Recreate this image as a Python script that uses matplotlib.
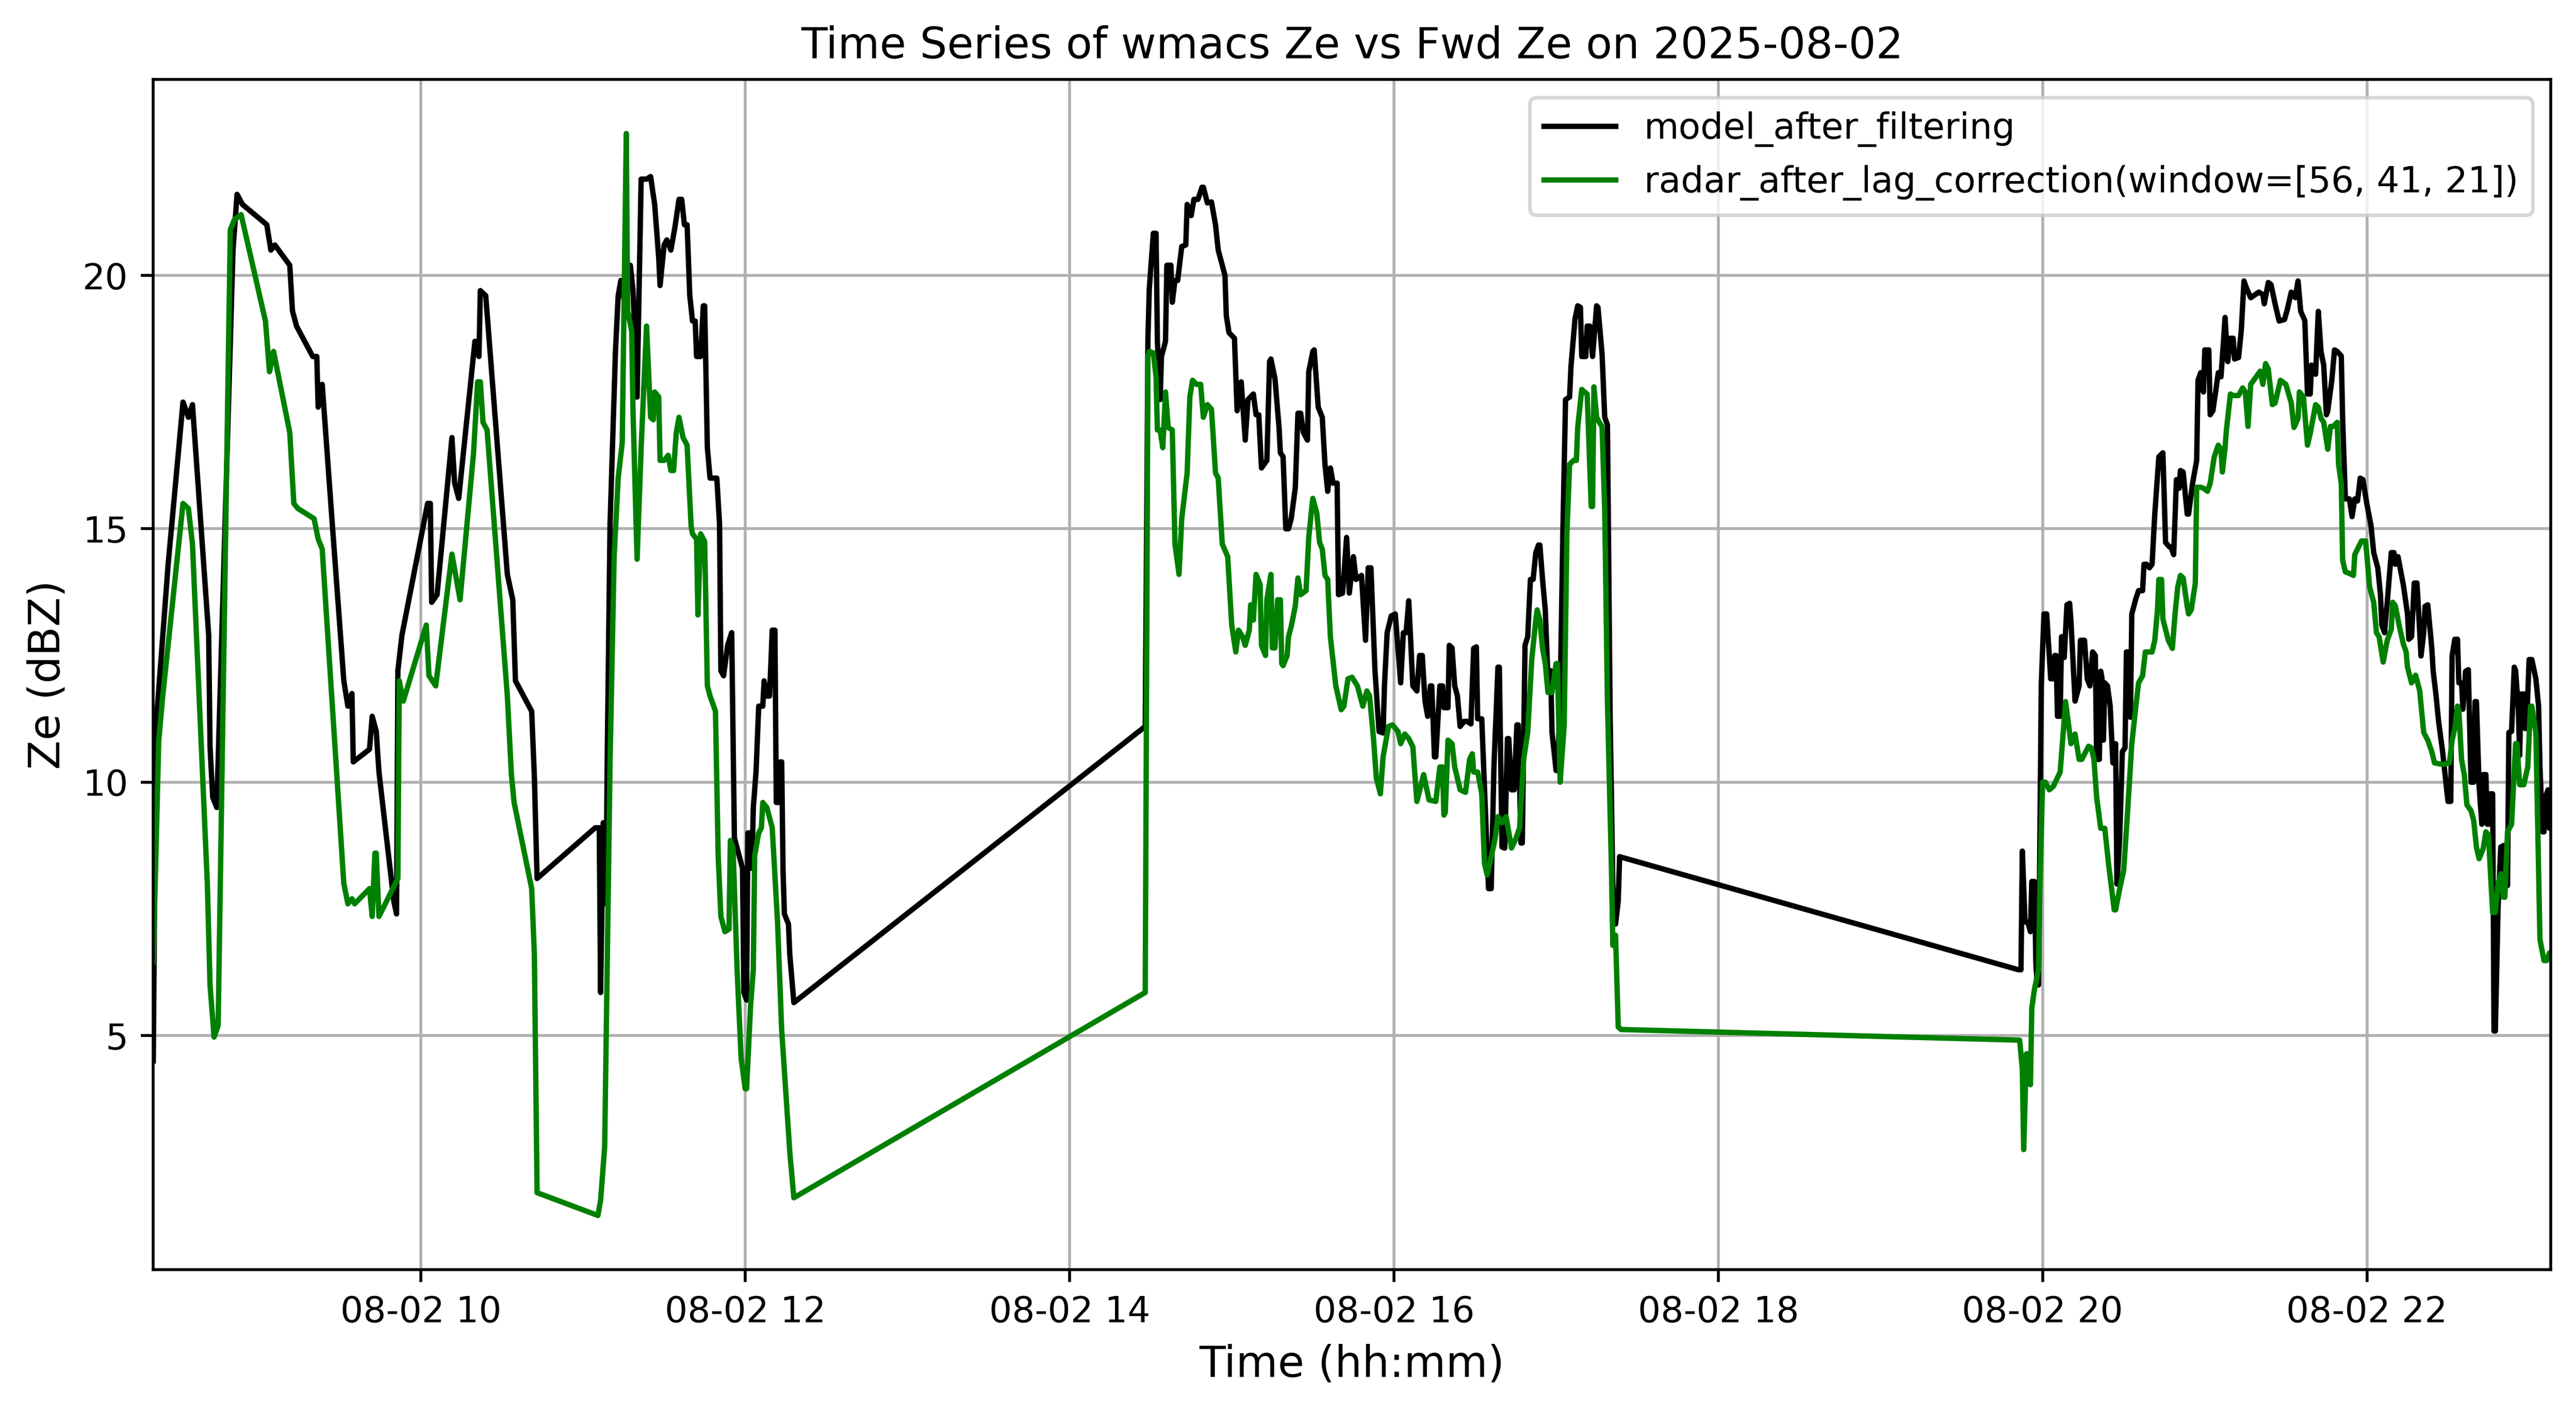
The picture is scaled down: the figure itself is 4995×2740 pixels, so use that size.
import matplotlib
matplotlib.use("Agg")
import matplotlib.pyplot as plt
import pandas as pd

day = "2025-08-02"

# model Ze after filtering (black)
model_time = [
    "08:21:00", "08:22:00", "08:26:30", "08:32:00", "08:34:00", "08:35:30", "08:41:30", "08:42:00",
    "08:43:00", "08:44:30", "08:50:30", "08:52:00", "08:54:00", "09:03:00", "09:04:30", "09:06:00",
    "09:11:30", "09:12:30", "09:14:00", "09:20:00", "09:21:30", "09:22:00", "09:23:30", "09:27:30",
    "09:31:30", "09:33:00", "09:34:30", "09:35:00", "09:41:00", "09:42:00", "09:43:30", "09:44:30",
    "09:50:00", "09:51:00", "09:51:30", "09:53:00", "10:02:30", "10:03:30", "10:04:00", "10:06:00",
    "10:11:30", "10:12:30", "10:14:00", "10:20:00", "10:21:30", "10:22:00", "10:24:00", "10:32:00",
    "10:34:00", "10:35:00", "10:41:00", "10:42:00", "10:43:00", "11:04:30", "11:06:00", "11:06:30",
    "11:07:30", "11:08:30", "11:09:00", "11:10:00", "11:12:00", "11:13:00", "11:14:00", "11:15:30",
    "11:17:30", "11:18:30", "11:20:00", "11:21:30", "11:23:30", "11:25:00", "11:26:30", "11:28:00",
    "11:28:30", "11:30:00", "11:31:00", "11:32:30", "11:34:00", "11:35:30", "11:36:30", "11:37:30",
    "11:38:30", "11:39:30", "11:40:30", "11:41:30", "11:42:00", "11:43:30", "11:44:30", "11:45:00",
    "11:46:00", "11:47:00", "11:49:30", "11:50:30", "11:51:00", "11:52:00", "11:53:30", "11:55:00",
    "11:56:00", "11:57:00", "11:59:00", "11:59:30", "12:00:30", "12:01:00", "12:02:00", "12:02:30",
    "12:03:00", "12:04:00", "12:05:00", "12:06:30", "12:07:00", "12:08:00", "12:09:00", "12:10:00",
    "12:11:00", "12:11:30", "12:12:30", "12:13:00", "12:13:30", "12:14:00", "12:14:30", "12:16:00",
    "12:16:30", "12:18:00", "14:28:00", "14:29:00", "14:29:30", "14:31:00", "14:32:00", "14:32:30",
    "14:33:30", "14:34:00", "14:35:30", "14:36:00", "14:37:30", "14:38:00", "14:39:00", "14:40:00",
    "14:41:30", "14:43:00", "14:43:30", "14:45:00", "14:46:00", "14:47:30", "14:49:00", "14:49:30",
    "14:51:00", "14:52:30", "14:54:00", "14:55:00", "14:57:30", "14:58:00", "14:59:00", "15:01:00",
    "15:02:00", "15:03:30", "15:05:00", "15:06:00", "15:08:00", "15:09:00", "15:10:00", "15:11:00",
    "15:13:00", "15:14:00", "15:14:30", "15:16:00", "15:17:30", "15:18:00", "15:19:00", "15:20:00",
    "15:21:00", "15:22:00", "15:23:30", "15:24:30", "15:25:30", "15:26:30", "15:28:00", "15:28:30",
    "15:30:00", "15:30:30", "15:32:00", "15:33:30", "15:34:30", "15:35:30", "15:36:30", "15:37:30",
    "15:39:00", "15:39:30", "15:41:00", "15:42:30", "15:43:30", "15:45:00", "15:46:00", "15:48:00",
    "15:49:30", "15:50:30", "15:51:30", "15:53:00", "15:54:30", "15:56:00", "15:56:30", "15:57:30",
    "15:59:00", "16:00:30", "16:02:30", "16:03:30", "16:04:30", "16:05:30", "16:07:00", "16:08:30",
    "16:09:30", "16:10:30", "16:11:30", "16:12:30", "16:13:30", "16:14:00", "16:15:00", "16:15:30",
    "16:17:00", "16:18:00", "16:18:30", "16:20:00", "16:20:30", "16:21:30", "16:22:30", "16:23:30",
    "16:24:30", "16:26:00", "16:27:00", "16:28:30", "16:29:30", "16:30:30", "16:31:00", "16:32:30",
    "16:34:00", "16:35:00", "16:36:00", "16:37:00", "16:38:30", "16:39:00", "16:40:00", "16:41:00",
    "16:42:00", "16:42:30", "16:43:30", "16:44:30", "16:45:30", "16:46:00", "16:47:00", "16:47:30",
    "16:48:30", "16:49:30", "16:50:30", "16:51:30", "16:52:30", "16:53:30", "16:54:00", "16:55:00",
    "16:56:00", "16:57:00", "16:58:00", "16:58:30", "17:00:00", "17:00:30", "17:01:30", "17:02:30",
    "17:03:30", "17:05:00", "17:05:30", "17:07:00", "17:08:00", "17:09:00", "17:09:30", "17:11:00",
    "17:11:30", "17:12:30", "17:13:30", "17:15:00", "17:15:30", "17:17:00", "17:18:00", "17:19:00",
    "17:20:00", "17:21:00", "17:22:00", "17:23:00", "17:23:30", "19:51:00", "19:52:00", "19:52:30",
    "19:53:30", "19:54:30", "19:55:30", "19:56:00", "19:57:00", "19:57:30", "19:58:00", "19:58:30",
    "19:59:30", "20:00:30", "20:01:30", "20:03:00", "20:04:00", "20:04:30", "20:05:00", "20:05:30",
    "20:06:30", "20:07:00", "20:07:30", "20:08:00", "20:09:00", "20:10:00", "20:10:30", "20:12:00",
    "20:13:30", "20:14:00", "20:15:30", "20:16:30", "20:17:30", "20:18:30", "20:19:30", "20:20:00",
    "20:21:00", "20:21:30", "20:22:00", "20:22:30", "20:23:00", "20:24:00", "20:25:00", "20:26:00",
    "20:27:00", "20:27:30", "20:28:30", "20:29:30", "20:30:30", "20:31:00", "20:32:00", "20:32:30",
    "20:33:00", "20:34:30", "20:35:30", "20:37:00", "20:37:30", "20:38:30", "20:39:30", "20:40:30",
    "20:41:30", "20:43:00", "20:44:30", "20:45:30", "20:47:00", "20:47:30", "20:48:30", "20:49:30",
    "20:50:30", "20:51:00", "20:52:00", "20:53:30", "20:54:00", "20:55:30", "20:57:00", "20:57:30",
    "20:58:30", "20:59:30", "21:00:00", "21:01:30", "21:02:00", "21:03:00", "21:04:00", "21:05:00",
    "21:06:00", "21:07:00", "21:07:30", "21:08:30", "21:09:30", "21:10:30", "21:11:00", "21:12:30",
    "21:13:30", "21:14:30", "21:15:30", "21:17:00", "21:20:00", "21:21:30", "21:22:00", "21:23:30",
    "21:24:30", "21:26:00", "21:27:30", "21:29:30", "21:30:30", "21:32:00", "21:33:30", "21:34:30",
    "21:35:30", "21:37:00", "21:38:00", "21:39:00", "21:39:30", "21:41:00", "21:42:00", "21:43:00",
    "21:44:00", "21:45:00", "21:45:30", "21:47:00", "21:48:00", "21:49:00", "21:50:30", "21:51:00",
    "21:52:00", "21:53:30", "21:54:30", "21:55:30", "21:56:30", "21:57:30", "21:58:30", "22:00:00",
    "22:01:30", "22:02:30", "22:04:00", "22:05:00", "22:05:30", "22:06:30", "22:07:30", "22:09:00",
    "22:10:00", "22:10:30", "22:11:30", "22:13:30", "22:15:00", "22:15:30", "22:16:30", "22:17:30",
    "22:18:30", "22:19:00", "22:20:00", "22:21:00", "22:21:30", "22:22:30", "22:24:00", "22:24:30",
    "22:25:30", "22:26:30", "22:28:00", "22:29:30", "22:30:00", "22:31:00", "22:31:30", "22:32:30",
    "22:33:30", "22:34:00", "22:35:00", "22:35:30", "22:36:30", "22:37:30", "22:38:30", "22:39:30",
    "22:40:00", "22:40:30", "22:41:30", "22:42:30", "22:43:00", "22:44:00", "22:44:30", "22:45:00",
    "22:45:30", "22:46:30", "22:47:00", "22:47:30", "22:48:30", "22:49:30", "22:50:30", "22:51:30",
    "22:52:00", "22:52:30", "22:53:30", "22:54:30", "22:55:00", "22:56:00", "22:56:30", "22:57:00",
    "22:58:00", "22:58:30", "22:59:00", "23:00:00", "23:01:00", "23:02:30", "23:03:30", "23:04:00",
    "23:05:00", "23:05:30", "23:06:00", "23:07:00", "23:07:30", "23:08:00",
]
model_ze = [
    4.5, 11.1, 14.3, 17.5, 17.2, 17.45, 12.9, 10.7,
    9.7, 9.5, 20.5, 21.6, 21.4, 21.0, 20.5, 20.6,
    20.2, 19.3, 19.0, 18.4, 18.4, 17.4, 17.85, 14.9,
    12.0, 11.5, 11.75, 10.4, 10.65, 11.3, 11.0, 10.2,
    7.65, 7.4, 12.2, 12.9, 15.5, 15.5, 13.55, 13.7,
    16.8, 15.9, 15.6, 18.7, 18.4, 19.7, 19.6, 14.1,
    13.6, 12.0, 11.4, 10.1, 8.1, 9.1, 9.1, 5.85,
    9.2, 7.6, 10.7, 15.1, 18.5, 19.6, 19.9, 19.4,
    20.2, 19.7, 17.6, 21.9, 21.9, 21.95, 21.4, 20.35,
    19.8, 20.6, 20.7, 20.5, 20.95, 21.5, 21.5, 21.0,
    21.0, 19.6, 19.1, 19.1, 18.4, 18.4, 19.4, 19.4,
    16.6, 16.0, 16.0, 15.1, 12.2, 12.1, 12.7, 12.95,
    8.9, 8.7, 8.3, 5.85, 5.7, 9.0, 9.0, 8.3,
    9.5, 10.2, 11.5, 11.5, 12.0, 11.7, 11.7, 13.0,
    13.0, 9.6, 9.6, 10.4, 10.4, 8.25, 7.4, 7.2,
    6.6, 5.65, 11.1, 18.76, 19.74, 20.83, 20.83, 18.7,
    17.55, 18.4, 18.7, 20.2, 20.2, 19.47, 19.9, 19.9,
    20.57, 20.6, 21.4, 21.18, 21.5, 21.5, 21.74, 21.74,
    21.43, 21.45, 21.0, 20.5, 20.0, 19.2, 18.87, 18.76,
    17.33, 17.9, 16.75, 17.55, 17.66, 17.25, 17.25, 16.2,
    16.35, 18.3, 18.35, 17.96, 17.0, 16.5, 16.42, 15.0,
    15.0, 15.2, 15.8, 17.28, 17.28, 16.9, 16.75, 18.1,
    18.5, 18.53, 17.4, 17.2, 16.27, 15.74, 16.2, 15.9,
    15.9, 13.7, 13.73, 14.83, 13.73, 14.45, 14.0, 14.08,
    12.8, 14.23, 14.23, 12.2, 11.0, 10.97, 11.9, 12.95,
    13.28, 13.32, 11.96, 12.95, 12.95, 13.58, 11.9, 11.8,
    12.5, 12.5, 11.6, 11.3, 11.9, 11.9, 10.5, 10.5,
    11.9, 11.9, 11.47, 11.47, 12.7, 12.65, 11.9, 11.7,
    11.1, 11.2, 11.2, 11.15, 12.64, 12.67, 11.25, 11.25,
    9.24, 7.9, 7.9, 10.3, 12.27, 12.27, 8.72, 8.7,
    10.86, 10.86, 9.85, 9.85, 11.13, 11.13, 8.8, 8.8,
    12.7, 12.87, 14.0, 14.0, 14.53, 14.68, 14.68, 14.0,
    13.4, 12.04, 12.2, 10.98, 10.23, 10.23, 11.6, 14.9,
    17.55, 17.6, 18.2, 19.14, 19.4, 19.37, 18.4, 18.4,
    19.0, 19.0, 18.4, 19.4, 19.37, 18.46, 17.2, 17.05,
    11.3, 7.96, 7.2, 7.66, 8.53, 6.3, 6.3, 8.64,
    7.24, 7.24, 7.05, 8.04, 8.04, 6.45, 6.0, 6.0,
    11.9, 13.32, 13.32, 12.04, 12.04, 12.5, 12.5, 11.3,
    11.3, 12.87, 12.87, 12.46, 13.5, 13.53, 13.17, 11.6,
    11.9, 12.8, 12.8, 12.04, 11.9, 12.57, 12.5, 10.45,
    10.45, 12.19, 12.04, 10.83, 11.96, 11.9, 11.5, 10.38,
    10.76, 7.99, 8.87, 10.6, 10.68, 12.57, 12.57, 11.28,
    13.32, 13.62, 13.78, 13.78, 14.3, 14.3, 14.23, 14.3,
    15.29, 16.42, 16.5, 14.73, 14.64, 14.64, 14.49, 15.97,
    15.8, 16.15, 16.12, 15.29, 15.29, 15.9, 16.35, 17.93,
    18.08, 17.7, 18.53, 18.53, 17.25, 17.33, 17.7, 18.08,
    18.0, 18.76, 19.17, 18.3, 18.76, 18.76, 18.35, 18.38,
    18.91, 19.89, 19.74, 19.56, 19.67, 19.62, 19.44, 19.86,
    19.82, 19.44, 19.1, 19.13, 19.32, 19.67, 19.56, 19.89,
    19.29, 19.11, 17.66, 17.66, 18.23, 18.05, 19.29, 18.5,
    18.23, 17.25, 17.33, 17.93, 18.53, 18.5, 18.41, 17.18,
    15.59, 15.59, 15.24, 15.59, 15.55, 16.0, 15.97, 15.48,
    15.06, 14.53, 14.23, 13.7, 13.1, 12.95, 13.55, 14.53,
    14.53, 14.3, 14.45, 13.88, 13.32, 12.82, 12.87, 13.93,
    13.93, 13.47, 12.49, 12.95, 13.47, 13.5, 12.64, 12.19,
    11.74, 11.2, 10.6, 9.85, 9.62, 9.62, 12.49, 12.82,
    12.82, 11.96, 11.96, 11.44, 12.19, 12.22, 10.0, 10.0,
    11.59, 11.59, 9.92, 9.17, 10.15, 10.15, 9.17, 9.17,
    9.77, 9.77, 5.09, 5.09, 7.51, 8.72, 8.75, 7.96,
    7.96, 10.98, 11.0, 12.27, 12.2, 11.44, 10.53, 11.74,
    11.74, 11.06, 11.06, 12.42, 12.42, 12.04, 11.5, 10.3,
    9.02, 9.02, 9.7, 9.85, 9.09, 9.5,
]

# radar Ze after lag correction (green)
radar_time = [
    "08:21:00", "08:23:00", "08:24:30", "08:32:00", "08:34:00", "08:35:30", "08:41:00", "08:42:00",
    "08:43:30", "08:45:00", "08:49:30", "08:51:00", "08:53:30", "09:02:30", "09:04:00", "09:05:30",
    "09:11:30", "09:13:00", "09:14:30", "09:20:30", "09:22:00", "09:23:30", "09:31:30", "09:33:00",
    "09:34:30", "09:35:30", "09:41:00", "09:42:00", "09:43:00", "09:43:30", "09:44:30", "09:51:30",
    "09:52:00", "09:53:30", "10:02:00", "10:03:00", "10:05:30", "10:11:30", "10:14:30", "10:19:30",
    "10:21:00", "10:22:00", "10:23:00", "10:24:30", "10:32:00", "10:33:30", "10:34:30", "10:41:00",
    "10:42:00", "10:43:00", "11:05:30", "11:06:30", "11:08:00", "11:09:00", "11:10:00", "11:11:30",
    "11:13:00", "11:14:30", "11:16:00", "11:16:30", "11:18:00", "11:18:30", "11:20:00", "11:21:30",
    "11:23:30", "11:25:00", "11:26:00", "11:26:30", "11:28:00", "11:28:30", "11:30:00", "11:31:30",
    "11:32:30", "11:33:30", "11:34:30", "11:35:30", "11:37:00", "11:38:30", "11:40:00", "11:40:30",
    "11:42:00", "11:42:30", "11:43:30", "11:45:00", "11:46:00", "11:47:00", "11:49:00", "11:50:00",
    "11:51:00", "11:52:30", "11:54:00", "11:54:30", "11:55:30", "11:57:00", "11:58:30", "12:00:00",
    "12:00:30", "12:02:00", "12:03:00", "12:03:30", "12:05:00", "12:06:00", "12:06:30", "12:08:00",
    "12:10:00", "12:12:00", "12:13:30", "12:16:30", "12:18:00", "14:28:00", "14:29:00", "14:29:30",
    "14:31:00", "14:32:00", "14:32:30", "14:33:30", "14:34:30", "14:35:30", "14:36:30", "14:38:00",
    "14:39:00", "14:40:30", "14:41:30", "14:43:30", "14:44:30", "14:45:30", "14:47:00", "14:48:30",
    "14:49:30", "14:51:00", "14:52:30", "14:54:00", "14:55:00", "14:56:30", "14:58:30", "15:00:00",
    "15:01:30", "15:02:30", "15:04:00", "15:05:00", "15:06:30", "15:07:00", "15:08:00", "15:09:00",
    "15:10:30", "15:11:00", "15:12:30", "15:13:00", "15:14:30", "15:15:00", "15:16:00", "15:17:00",
    "15:18:00", "15:18:30", "15:19:00", "15:20:30", "15:21:00", "15:22:00", "15:23:30", "15:24:30",
    "15:25:30", "15:27:30", "15:28:30", "15:29:30", "15:30:00", "15:31:30", "15:32:30", "15:33:30",
    "15:34:30", "15:35:30", "15:36:30", "15:38:30", "15:40:30", "15:41:30", "15:43:00", "15:44:30",
    "15:46:30", "15:47:30", "15:48:30", "15:50:00", "15:51:00", "15:52:30", "15:53:30", "15:55:00",
    "15:56:00", "15:58:00", "15:59:30", "16:01:30", "16:02:30", "16:04:00", "16:05:30", "16:07:00",
    "16:08:30", "16:11:00", "16:13:00", "16:15:30", "16:17:00", "16:18:00", "16:18:30", "16:19:00",
    "16:20:00", "16:21:30", "16:22:30", "16:24:30", "16:26:30", "16:28:00", "16:29:00", "16:29:30",
    "16:31:00", "16:32:30", "16:33:30", "16:34:30", "16:35:30", "16:37:30", "16:38:30", "16:40:00",
    "16:41:30", "16:43:30", "16:45:00", "16:46:30", "16:48:00", "16:49:30", "16:51:00", "16:52:30",
    "16:53:00", "16:54:00", "16:55:00", "16:56:00", "16:57:00", "16:58:30", "17:00:00", "17:00:30",
    "17:01:30", "17:03:00", "17:04:00", "17:05:00", "17:06:30", "17:07:30", "17:08:00", "17:09:30",
    "17:10:30", "17:11:30", "17:13:00", "17:13:30", "17:14:00", "17:15:00", "17:16:00", "17:17:00",
    "17:18:00", "17:19:00", "17:20:30", "17:21:00", "17:22:00", "17:23:00", "17:24:00", "19:51:30",
    "19:52:30", "19:53:00", "19:54:00", "19:54:30", "19:55:30", "19:56:00", "19:57:00", "19:58:30",
    "19:59:00", "20:00:00", "20:01:00", "20:02:30", "20:04:00", "20:06:30", "20:08:30", "20:10:30",
    "20:12:00", "20:13:30", "20:14:30", "20:17:00", "20:18:00", "20:19:00", "20:20:00", "20:21:30",
    "20:23:00", "20:24:30", "20:26:30", "20:27:00", "20:28:30", "20:30:00", "20:31:30", "20:33:00",
    "20:34:30", "20:35:30", "20:37:00", "20:38:00", "20:39:30", "20:40:30", "20:41:30", "20:42:30",
    "20:43:00", "20:44:00", "20:44:30", "20:46:30", "20:48:00", "20:49:00", "20:50:00", "20:51:00",
    "20:52:00", "20:53:30", "20:54:00", "20:55:00", "20:56:30", "20:57:00", "20:58:30", "20:59:30",
    "21:01:00", "21:02:00", "21:03:30", "21:05:00", "21:06:00", "21:06:30", "21:07:30", "21:08:00",
    "21:09:30", "21:10:30", "21:12:30", "21:14:00", "21:15:00", "21:16:00", "21:17:00", "21:20:30",
    "21:21:30", "21:22:30", "21:23:30", "21:25:00", "21:26:00", "21:28:00", "21:30:00", "21:32:00",
    "21:33:00", "21:34:30", "21:35:00", "21:36:30", "21:38:00", "21:39:00", "21:41:00", "21:42:00",
    "21:43:00", "21:44:00", "21:45:30", "21:46:30", "21:47:30", "21:49:00", "21:49:30", "21:50:30",
    "21:51:00", "21:52:00", "21:53:30", "21:55:00", "21:55:30", "21:56:30", "21:58:00", "21:59:30",
    "22:01:00", "22:02:30", "22:03:30", "22:04:30", "22:06:00", "22:07:30", "22:09:00", "22:09:30",
    "22:10:30", "22:12:00", "22:13:30", "22:14:30", "22:15:00", "22:16:30", "22:18:00", "22:19:30",
    "22:21:00", "22:22:30", "22:24:00", "22:25:00", "22:28:00", "22:30:30", "22:31:30", "22:32:30",
    "22:33:30", "22:34:00", "22:35:00", "22:36:00", "22:37:00", "22:38:30", "22:39:30", "22:40:30",
    "22:41:30", "22:43:00", "22:44:00", "22:45:00", "22:45:30", "22:46:30", "22:47:30", "22:48:30",
    "22:49:30", "22:50:30", "22:51:00", "22:52:00", "22:53:30", "22:55:00", "22:55:30", "22:56:30",
    "22:58:00", "22:59:30", "23:00:30", "23:01:00", "23:02:30", "23:04:00", "23:05:30", "23:06:30",
    "23:07:30", "23:08:00",
]
radar_ze = [
    6.45, 10.8, 11.7, 15.5, 15.4, 14.7, 8.0, 6.0,
    4.97, 5.2, 20.9, 21.1, 21.2, 19.1, 18.1, 18.5,
    16.9, 15.5, 15.4, 15.2, 14.8, 14.6, 8.0, 7.6,
    7.7, 7.6, 7.9, 7.35, 8.6, 8.6, 7.35, 8.1,
    12.0, 11.6, 13.1, 12.1, 11.9, 14.5, 13.6, 16.5,
    17.9, 17.9, 17.1, 16.95, 11.7, 10.15, 9.6, 7.9,
    6.6, 1.9, 1.45, 1.75, 2.8, 6.6, 10.4, 14.45,
    16.0, 16.7, 22.8, 19.3, 18.9, 17.3, 14.4, 16.6,
    19.0, 17.2, 17.15, 17.7, 17.6, 16.35, 16.35, 16.45,
    16.15, 16.15, 16.9, 17.2, 16.8, 16.65, 15.05, 14.9,
    14.8, 13.3, 14.9, 14.75, 11.9, 11.7, 11.4, 8.55,
    7.35, 7.05, 7.1, 8.85, 8.7, 6.3, 4.55, 3.95,
    3.95, 5.6, 6.3, 8.55, 9.0, 9.1, 9.6, 9.5,
    9.1, 7.2, 5.1, 2.7, 1.8, 5.85, 18.4, 18.5,
    18.47, 18.0, 16.95, 16.95, 16.6, 17.7, 17.0, 16.95,
    14.7, 14.1, 15.2, 16.1, 17.6, 17.93, 17.85, 17.85,
    17.2, 17.45, 17.36, 16.1, 16.0, 14.7, 14.45, 13.1,
    12.57, 13.0, 12.87, 12.7, 13.0, 13.5, 13.2, 14.1,
    13.9, 12.7, 12.5, 13.6, 14.1, 12.65, 12.65, 13.6,
    13.6, 12.34, 12.3, 12.5, 12.87, 13.07, 13.47, 14.03,
    13.7, 13.78, 14.83, 15.36, 15.6, 15.3, 14.73, 14.6,
    14.08, 14.0, 12.87, 11.9, 11.43, 11.5, 12.04, 12.07,
    11.9, 11.7, 11.5, 11.8, 11.7, 10.83, 10.08, 9.77,
    10.5, 11.1, 11.13, 11.0, 10.76, 10.95, 10.86, 10.7,
    9.62, 10.15, 9.65, 9.62, 10.3, 10.3, 9.35, 9.4,
    10.83, 10.76, 10.3, 9.85, 9.8, 10.45, 10.56, 10.2,
    10.2, 9.77, 8.4, 8.17, 8.4, 8.9, 9.32, 9.2,
    9.32, 8.7, 8.87, 9.1, 10.45, 10.98, 12.42, 13.2,
    13.4, 13.2, 12.64, 12.34, 11.77, 11.77, 12.34, 12.34,
    10.0, 11.13, 14.9, 16.27, 16.35, 16.35, 17.0, 17.75,
    17.7, 17.66, 15.44, 15.44, 17.8, 17.2, 17.1, 17.02,
    15.36, 11.6, 8.26, 6.78, 6.98, 5.17, 5.12, 4.91,
    4.34, 2.75, 4.64, 4.64, 4.03, 5.54, 5.92, 6.3,
    7.96, 10.0, 10.0, 9.85, 9.92, 10.2, 11.59, 10.76,
    10.95, 10.45, 10.45, 10.71, 10.68, 10.45, 9.7, 9.09,
    9.09, 8.34, 7.48, 7.48, 7.89, 8.26, 9.47, 10.76,
    11.5, 11.96, 12.1, 12.57, 12.57, 12.57, 12.8, 13.4,
    14.0, 14.0, 13.22, 12.8, 12.64, 13.32, 13.85, 14.08,
    14.03, 13.47, 13.32, 13.4, 13.93, 15.82, 15.82, 15.8,
    15.74, 15.9, 16.42, 16.65, 16.57, 16.12, 16.6, 16.95,
    17.66, 17.63, 17.63, 17.78, 17.7, 17.02, 17.85, 18.11,
    17.85, 18.26, 18.15, 17.45, 17.48, 17.93, 17.85, 17.48,
    17.0, 17.18, 17.7, 17.6, 16.65, 16.88, 17.45, 17.4,
    17.18, 17.1, 16.57, 17.02, 17.02, 17.1, 16.27, 15.89,
    14.38, 14.15, 14.12, 14.08, 14.49, 14.6, 14.76, 14.76,
    13.85, 13.55, 12.95, 12.87, 12.37, 12.8, 13.02, 13.55,
    13.48, 13.07, 12.72, 12.57, 12.27, 11.96, 12.11, 11.81,
    10.98, 10.83, 10.6, 10.38, 10.35, 10.38, 10.83, 11.06,
    11.5, 11.42, 10.45, 10.15, 9.55, 9.44, 9.24, 8.72,
    8.49, 8.69, 9.02, 8.95, 8.4, 7.43, 7.43, 7.99,
    8.19, 7.73, 7.73, 9.02, 9.17, 10.76, 10.76, 9.95,
    9.95, 10.3, 11.5, 11.5, 10.98, 6.9, 6.48, 6.48,
    6.63, 6.6,
]

model_t = pd.to_datetime([day + " " + t for t in model_time])
radar_t = pd.to_datetime([day + " " + t for t in radar_time])

fig, ax = plt.subplots(figsize=(9.99, 5.48), dpi=500)
fig.subplots_adjust(left=0.0595, right=0.9902, bottom=0.1015, top=0.9438)

ax.plot(model_t, model_ze, color="black", lw=1.5, label="model_after_filtering")
ax.plot(radar_t, radar_ze, color="green", lw=1.5,
        label="radar_after_lag_correction(window=[56, 41, 21])")

ax.set_xlim(min(model_t.min(), radar_t.min()), max(model_t.max(), radar_t.max()))
ax.set_xlabel("Time (hh:mm)", fontsize=12)
ax.set_ylabel("Ze (dBZ)", fontsize=12)
ax.set_title("Time Series of wmacs Ze vs Fwd Ze on " + day, fontsize=12)
ax.legend(loc="upper right")
ax.grid(True)

plt.savefig("out.png", dpi=500)
